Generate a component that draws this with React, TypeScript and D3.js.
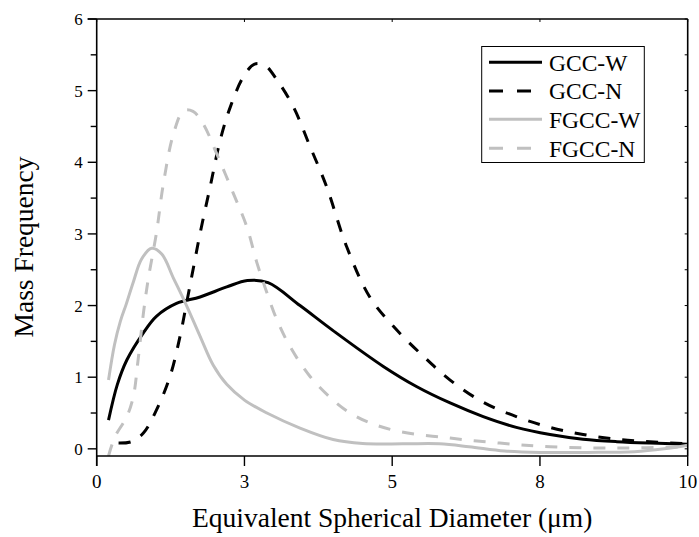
import React from "react";
import * as d3 from "d3";

const seriesNames = ["GCC-W", "GCC-N", "FGCC-W", "FGCC-N"];
const seriesColors = ["#000000", "#000000", "#c0c0c0", "#c0c0c0"];
const seriesDashed = [false, true, false, true];

const gccW: [number, number][] = [
  [0.2, 0.4], [0.35, 0.9], [0.51, 1.24], [0.79, 1.62], [1.01, 1.85], [1.35, 2.03], [1.75, 2.12],
  [2.2, 2.26], [2.55, 2.35], [2.9, 2.32], [3.44, 2.0], [4.0, 1.65],
  [4.85, 1.15], [5.41, 0.87], [5.98, 0.64], [6.54, 0.45], [7.1, 0.3], [7.67, 0.2],
  [8.23, 0.135], [8.8, 0.1], [9.36, 0.08], [10, 0.065],
];
const gccN: [number, number][] = [
  [0.37, 0.08], [0.59, 0.1], [0.79, 0.22], [1.01, 0.54], [1.24, 1.01], [1.41, 1.57],
  [1.52, 2.03], [1.63, 2.5], [1.75, 3.01], [1.92, 3.66], [2.09, 4.31], [2.26, 4.77],
  [2.48, 5.19], [2.67, 5.37], [2.85, 5.35], [3.05, 5.15], [3.33, 4.77], [3.61, 4.22],
  [3.89, 3.66], [4.23, 2.82], [4.62, 2.12], [5.02, 1.71], [5.53, 1.29], [5.98, 0.96],
  [6.54, 0.65], [7.1, 0.45], [7.67, 0.3], [8.23, 0.2], [8.8, 0.135], [9.36, 0.1], [10, 0.07],
];
const fgccW: [number, number][] = [
  [0.2, 0.96], [0.3, 1.45], [0.4, 1.78], [0.5, 2.02], [0.62, 2.33], [0.76, 2.65],
  [0.93, 2.8], [1.1, 2.72], [1.3, 2.38], [1.52, 2.0],
  [1.75, 1.57], [1.97, 1.17], [2.2, 0.9], [2.5, 0.68], [2.88, 0.5], [3.44, 0.29],
  [4.0, 0.13], [4.5, 0.075], [5.2, 0.07], [5.8, 0.07], [6.3, 0.03], [6.9, -0.03],
  [7.5, -0.05], [8.3, -0.05], [9.1, -0.04], [9.6, 0.0], [10, 0.05],
];
const fgccN: [number, number][] = [
  [0.2, -0.1], [0.31, 0.17], [0.51, 0.45], [0.62, 0.73], [0.7, 1.24], [0.79, 1.89],
  [0.87, 2.36], [1.01, 3.01], [1.13, 3.71], [1.3, 4.4], [1.47, 4.72], [1.63, 4.71],
  [1.8, 4.54], [2.03, 4.12], [2.31, 3.57], [2.54, 3.1], [2.71, 2.6], [2.85, 2.25],
  [3.05, 1.8], [3.27, 1.43], [3.61, 1.01], [4.0, 0.68], [4.29, 0.5], [4.6, 0.37],
  [5.13, 0.24], [5.98, 0.15], [6.82, 0.08], [7.67, 0.03], [8.8, 0.01], [10, 0.03],
];
const seriesData = [gccW, gccN, fgccW, fgccN];

const xTicks = [0, 2.5, 5, 7.5, 10];
const xTickLabels = ["0", "3", "5", "8", "10"];
const yTicks = [0, 1, 2, 3, 4, 5, 6];
const yMinorTicks = [0.5, 1.5, 2.5, 3.5, 4.5, 5.5];

const W = 699;
const H = 537;
const L = 96.7, R = 687.7, T = 19, B = 456;
const FONT = "'Liberation Serif', 'Times New Roman', serif";

export default function App() {
  const x = d3.scaleLinear().domain([0, 10]).range([L, R]);
  const y = d3.scaleLinear().domain([-0.1, 6]).range([B, T]);
  const line = d3
    .line<[number, number]>()
    .x((d) => x(d[0]))
    .y((d) => y(d[1]))
    .curve(d3.curveCatmullRom.alpha(0.5));

  const legendX0 = 489, legendX1 = 542, legendTextX = 549;
  const legendRows = [62.3, 91, 119.3, 148.3];

  return (
    <svg
      width={W}
      height={H}
      style={{ position: "absolute", left: 0, top: 0, background: "#fff" }}
      fontFamily={FONT}
    >
      <defs>
        <clipPath id="plotclip">
          <rect x={L} y={T} width={R - L} height={B - T} />
        </clipPath>
      </defs>
      <g clipPath="url(#plotclip)">
        {seriesData.map((d, i) => (
          <path
            key={i}
            d={line(d) || ""}
            fill="none"
            stroke={seriesColors[i]}
            strokeWidth={3}
            strokeDasharray={seriesDashed[i] ? "12,12" : undefined}
          />
        ))}
      </g>
      {/* frame */}
      <line x1={L} x2={L} y1={T} y2={B + 10} stroke="#000" strokeWidth={1.6} />
      <line x1={L - 9} x2={R} y1={T} y2={T} stroke="#000" strokeWidth={1.6} />
      <line x1={R} x2={R} y1={T} y2={B} stroke="#000" strokeWidth={1.6} />
      <line x1={L} x2={R} y1={B} y2={B} stroke="#000" strokeWidth={1.6} />
      {/* y ticks */}
      {yTicks.map((t) => (
        <g key={"y" + t}>
          <line x1={L - 9} x2={L} y1={y(t)} y2={y(t)} stroke="#000" strokeWidth={1.4} />
          <line x1={R - 3} x2={R} y1={y(t)} y2={y(t)} stroke="#000" strokeWidth={1} />
          <text x={L - 14} y={y(t)} dy="0.35em" textAnchor="end" fontSize={17}>
            {t}
          </text>
        </g>
      ))}
      {yMinorTicks.map((t) => (
        <g key={"ym" + t}>
          <line x1={L - 6} x2={L} y1={y(t)} y2={y(t)} stroke="#000" strokeWidth={1.4} />
          <line x1={R - 3} x2={R} y1={y(t)} y2={y(t)} stroke="#000" strokeWidth={1} />
        </g>
      ))}
      {/* x ticks */}
      {xTicks.map((t, i) => (
        <g key={"x" + t}>
          <line x1={x(t)} x2={x(t)} y1={B} y2={B + 10} stroke="#000" strokeWidth={1.4} />
          <line x1={x(t)} x2={x(t)} y1={T} y2={T + 3} stroke="#000" strokeWidth={1} />
          <text x={x(t)} y={488} textAnchor="middle" fontSize={19}>
            {xTickLabels[i]}
          </text>
        </g>
      ))}
      {/* axis titles */}
      <text x={(L + R) / 2} y={527} textAnchor="middle" fontSize={27.5}>
        Equivalent Spherical Diameter (μm)
      </text>
      <text
        transform={`translate(33, 247) rotate(-90)`}
        textAnchor="middle"
        fontSize={27.5}
      >
        Mass Frequency
      </text>
      {/* legend */}
      <rect x={481.7} y={46.5} width={162.6} height={116} fill="#fff" stroke="#000" strokeWidth={1} />
      {seriesNames.map((n, i) => (
        <g key={n}>
          <line
            x1={legendX0}
            x2={seriesDashed[i] ? legendX0 + 42 : legendX1}
            y1={legendRows[i]}
            y2={legendRows[i]}
            stroke={seriesColors[i]}
            strokeWidth={3}
            strokeDasharray={seriesDashed[i] ? "14,14" : undefined}
          />
          <text x={legendTextX} y={legendRows[i]} dy="0.35em" fontSize={23.5}>
            {n}
          </text>
        </g>
      ))}
    </svg>
  );
}
